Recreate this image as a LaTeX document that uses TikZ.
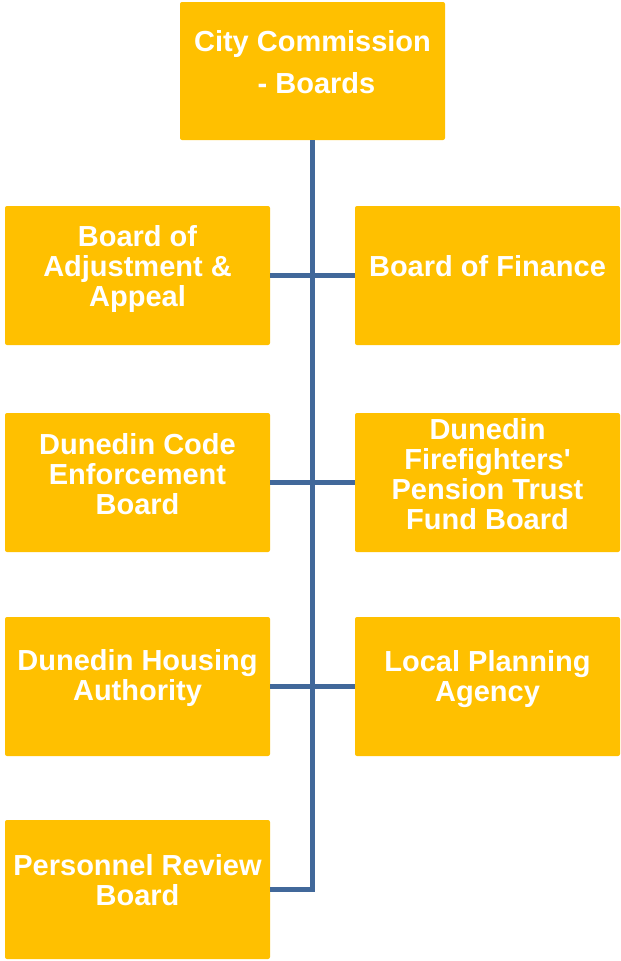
\documentclass[tikz,border=0pt]{standalone}
\usepackage{fontspec}
\setmainfont{Liberation Sans}
\definecolor{boardfill}{HTML}{FFC000}
\definecolor{linkblue}{HTML}{41689A}

\begin{document}
\begin{tikzpicture}[x=1pt,y=-1pt]

      \useasboundingbox (0,0) rectangle (621,961);

      \begin{scope}[every node/.style={rectangle, fill=boardfill, rounded corners=2pt,
          minimum width=265pt, minimum height=139pt, inner sep=0pt}]
        \node (cc)     at (312.5,71)    [minimum height=138pt] {};
        \node (baa)    at (137.5,275.5) {};
        \node (bof)    at (487.5,275.5) {};
        \node (dceb)   at (137.5,482.5) {};
        \node (dfptfb) at (487.5,482.5) {};
        \node (dha)    at (137.5,686.5) {};
        \node (lpa)    at (487.5,686.5) {};
        \node (prb)    at (137.5,889.5) {};
      \end{scope}

      \begin{scope}[every node/.style={text=white, align=center, inner sep=0pt,
          font=\bfseries\fontsize{29}{30}\selectfont}]
        \node (cc-t)     at (312.5,62)  [font=\bfseries\fontsize{29}{42}\selectfont]
                                        {City Commission\\\hspace*{8pt}- Boards};
        \node (baa-t)    at (137.5,269) {Board of\\Adjustment \&\\Appeal};
        \node (bof-t)    at (487.5,266) {Board of Finance};
        \node (dceb-t)   at (137.5,474) {Dunedin Code\\Enforcement\\Board};
        \node (dfptfb-t) at (487.5,474) {Dunedin\\Firefighters\textquotesingle\\Pension Trust\\Fund Board};
        \node (dha-t)    at (137.5,678) {Dunedin Housing\\Authority};
        \node (lpa-t)    at (487.5,679) {Local Planning\\Agency};
        \node (prb-t)    at (137.5,880) {Personnel Review\\Board};
      \end{scope}

      \begin{scope}[every edge/.style={draw, linkblue, line width=5.5pt}]
        \draw[linkblue, line width=5.5pt] (cc.south) |- (prb.east);
        \path (baa)  edge (bof);
        \path (dceb) edge (dfptfb);
        \path (dha)  edge (lpa);
      \end{scope}

    \end{tikzpicture}
\end{document}
